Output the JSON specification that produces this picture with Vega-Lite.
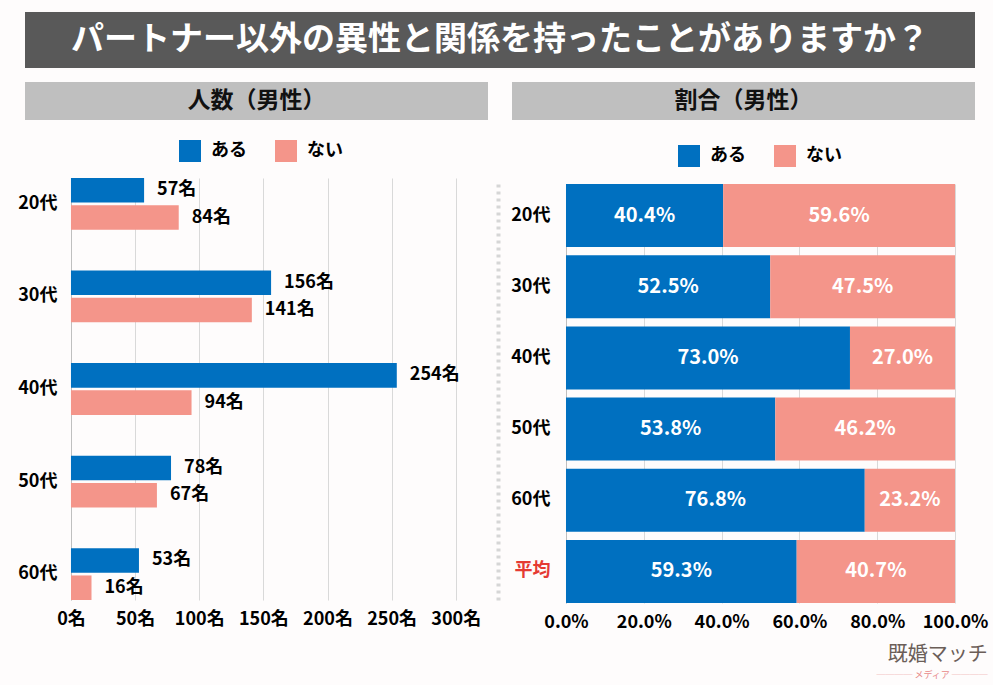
{
  "$schema": "https://vega.github.io/schema/vega-lite/v6.json",
  "background": "#fefcfc",
  "padding": {"left": 17, "top": 12, "right": 5, "bottom": 5},
  "config": {
    "font": "Noto Sans CJK JP",
    "view": {"stroke": null},
    "axis": {"labelFont": "Noto Sans CJK JP", "labelFontWeight": "bold", "labelColor": "#000000", "labelFontSize": 18, "ticks": false, "title": null, "labelFlush": false, "labelOverlap": false},
    "legend": {"labelFont": "Noto Sans CJK JP"}
  },
  "title": {"text": "既婚マッチ", "subtitle": "──── メディア ────", "orient": "bottom", "anchor": "end", "fontSize": 20, "fontWeight": "normal", "color": "#6b5e58", "subtitleColor": "#e88a8a", "subtitleFontSize": 9, "subtitlePadding": 6, "offset": 14},
  "resolve": {"legend": {"color": "independent"}},
  "columns": 1,
  "spacing": 14,
  "concat": [
    {
      "width": 950, "height": 56,
      "view": {"fill": "#595959", "stroke": null},
      "data": {"values": [{"t": "パートナー以外の異性と関係を持ったことがありますか？"}]},
      "mark": {"type": "text", "color": "#ffffff", "fontSize": 33, "fontWeight": "bold"},
      "encoding": {"text": {"field": "t", "type": "nominal"}}
    },
    {
      "columns": 2,
      "spacing": 10,
      "resolve": {"legend": {"color": "independent"}},
      "concat": [
        {
          "columns": 1,
          "spacing": 20,
          "resolve": {"legend": {"color": "independent"}},
          "concat": [
            {
              "width": 463, "height": 38,
              "view": {"fill": "#bfbfbf", "stroke": null},
              "data": {"values": [{"t": "人数（男性）"}]},
              "mark": {"type": "text", "color": "#111111", "fontSize": 23, "fontWeight": "bold"},
              "encoding": {"text": {"field": "t", "type": "nominal"}}
            },
            {
              "width": 463, "height": 422,
              "data": {"values": [
                {"age": "20代", "type": "ある", "n": 57, "label": "57名"},
                {"age": "20代", "type": "ない", "n": 84, "label": "84名"},
                {"age": "30代", "type": "ある", "n": 156, "label": "156名"},
                {"age": "30代", "type": "ない", "n": 141, "label": "141名"},
                {"age": "40代", "type": "ある", "n": 254, "label": "254名"},
                {"age": "40代", "type": "ない", "n": 94, "label": "94名"},
                {"age": "50代", "type": "ある", "n": 78, "label": "78名"},
                {"age": "50代", "type": "ない", "n": 67, "label": "67名"},
                {"age": "60代", "type": "ある", "n": 53, "label": "53名"},
                {"age": "60代", "type": "ない", "n": 16, "label": "16名"}
              ]},
              "encoding": {
                "y": {"field": "age", "type": "nominal", "sort": ["20代", "30代", "40代", "50代", "60代"], "scale": {"paddingInner": 0.44, "paddingOuter": 0}, "axis": {"title": null, "domainColor": "#bfbfbf", "labelPadding": 14, "offset": -46}},
                "yOffset": {"field": "type", "type": "nominal", "sort": ["ある", "ない"], "scale": {"paddingInner": 0.1, "paddingOuter": 0}},
                "x": {"field": "n", "type": "quantitative", "scale": {"domain": [-35.84, 325.1], "nice": false, "zero": false}, "axis": {"values": [0, 50, 100, 150, 200, 250, 300], "labelExpr": "datum.value + '名'", "grid": true, "gridColor": "#d9d9d9", "domain": false, "labelPadding": 10, "title": null}}
              },
              "layer": [
                {
                  "mark": {"type": "bar"},
                  "encoding": {
                    "color": {"field": "type", "type": "nominal", "scale": {"domain": ["ある", "ない"], "range": ["#0070c0", "#f4958a"]},
                      "legend": {"orient": "none", "legendX": 154, "legendY": -38, "direction": "horizontal", "title": null, "symbolType": "square", "symbolSize": 484, "symbolStrokeWidth": 0, "symbolOpacity": 1, "labelFontSize": 18, "labelFontWeight": "bold", "labelColor": "#000000", "labelOffset": 10, "columnPadding": 28}}
                  }
                },
                {
                  "mark": {"type": "text", "align": "left", "dx": 13, "fontSize": 18, "fontWeight": "bold", "color": "#000000"},
                  "encoding": {"text": {"field": "label", "type": "nominal"}}
                }
              ]
            }
          ]
        },
        {
          "columns": 1,
          "spacing": 25,
          "resolve": {"legend": {"color": "independent"}},
          "concat": [
            {
              "width": 463, "height": 38,
              "view": {"fill": "#bfbfbf", "stroke": null},
              "data": {"values": [{"t": "割合（男性）"}]},
              "mark": {"type": "text", "color": "#111111", "fontSize": 23, "fontWeight": "bold"},
              "encoding": {"text": {"field": "t", "type": "nominal"}}
            },
            {
              "width": 463, "height": 419,
              "data": {"values": [
                {"age": "20代", "type": "ある", "pct": 0.404},
                {"age": "20代", "type": "ない", "pct": 0.596},
                {"age": "30代", "type": "ある", "pct": 0.525},
                {"age": "30代", "type": "ない", "pct": 0.475},
                {"age": "40代", "type": "ある", "pct": 0.730},
                {"age": "40代", "type": "ない", "pct": 0.270},
                {"age": "50代", "type": "ある", "pct": 0.538},
                {"age": "50代", "type": "ない", "pct": 0.462},
                {"age": "60代", "type": "ある", "pct": 0.768},
                {"age": "60代", "type": "ない", "pct": 0.232},
                {"age": "平均", "type": "ある", "pct": 0.593},
                {"age": "平均", "type": "ない", "pct": 0.407}
              ]},
              "resolve": {"axis": {"y": "independent"}},
              "encoding": {
                "x": {"field": "pct", "type": "quantitative", "stack": "zero", "scale": {"domain": [-0.1388, 1.0514], "nice": false, "zero": false}, "axis": {"values": [0, 0.2, 0.4, 0.6, 0.8, 1], "format": ".1%", "grid": true, "gridColor": "#d9d9d9", "domain": false, "labelPadding": 10, "title": null}},
                "order": {"field": "type", "type": "ordinal", "sort": "ascending"}
              },
              "layer": [
                {
                  "mark": {"type": "bar"},
                  "encoding": {
                    "y": {"field": "age", "type": "nominal", "sort": ["20代", "30代", "40代", "50代", "60代", "平均"], "scale": {"paddingInner": 0.115, "paddingOuter": 0},
                      "axis": {"title": null, "domainColor": "#bfbfbf", "labelPadding": 16, "offset": -54, "labelColor": {"condition": {"test": "datum.value === '平均'", "value": "#e53a33"}, "value": "#000000"}}},
                    "color": {"field": "type", "type": "nominal", "scale": {"domain": ["ある", "ない"], "range": ["#0070c0", "#f4958a"]},
                      "legend": {"orient": "none", "legendX": 166, "legendY": -39, "direction": "horizontal", "title": null, "symbolType": "square", "symbolSize": 484, "symbolStrokeWidth": 0, "symbolOpacity": 1, "labelFontSize": 18, "labelFontWeight": "bold", "labelColor": "#000000", "labelOffset": 10, "columnPadding": 28}}
                  }
                },
                {
                  "mark": {"type": "text", "color": "#ffffff", "fontSize": 20, "fontWeight": "bold"},
                  "encoding": {
                    "y": {"field": "age", "type": "nominal", "sort": ["20代", "30代", "40代", "50代", "60代", "平均"],
                      "axis": {"title": null, "labels": false, "grid": false, "orient": "left", "offset": 14, "domainColor": "#d6d6d6", "domainWidth": 4, "domainDash": [3, 4]}},
                    "x": {"field": "pct", "type": "quantitative", "stack": "zero", "bandPosition": 0.5},
                    "detail": {"field": "type", "type": "nominal"},
                    "text": {"field": "pct", "type": "quantitative", "format": ".1%"}
                  }
                }
              ]
            }
          ]
        }
      ]
    }
  ]
}
